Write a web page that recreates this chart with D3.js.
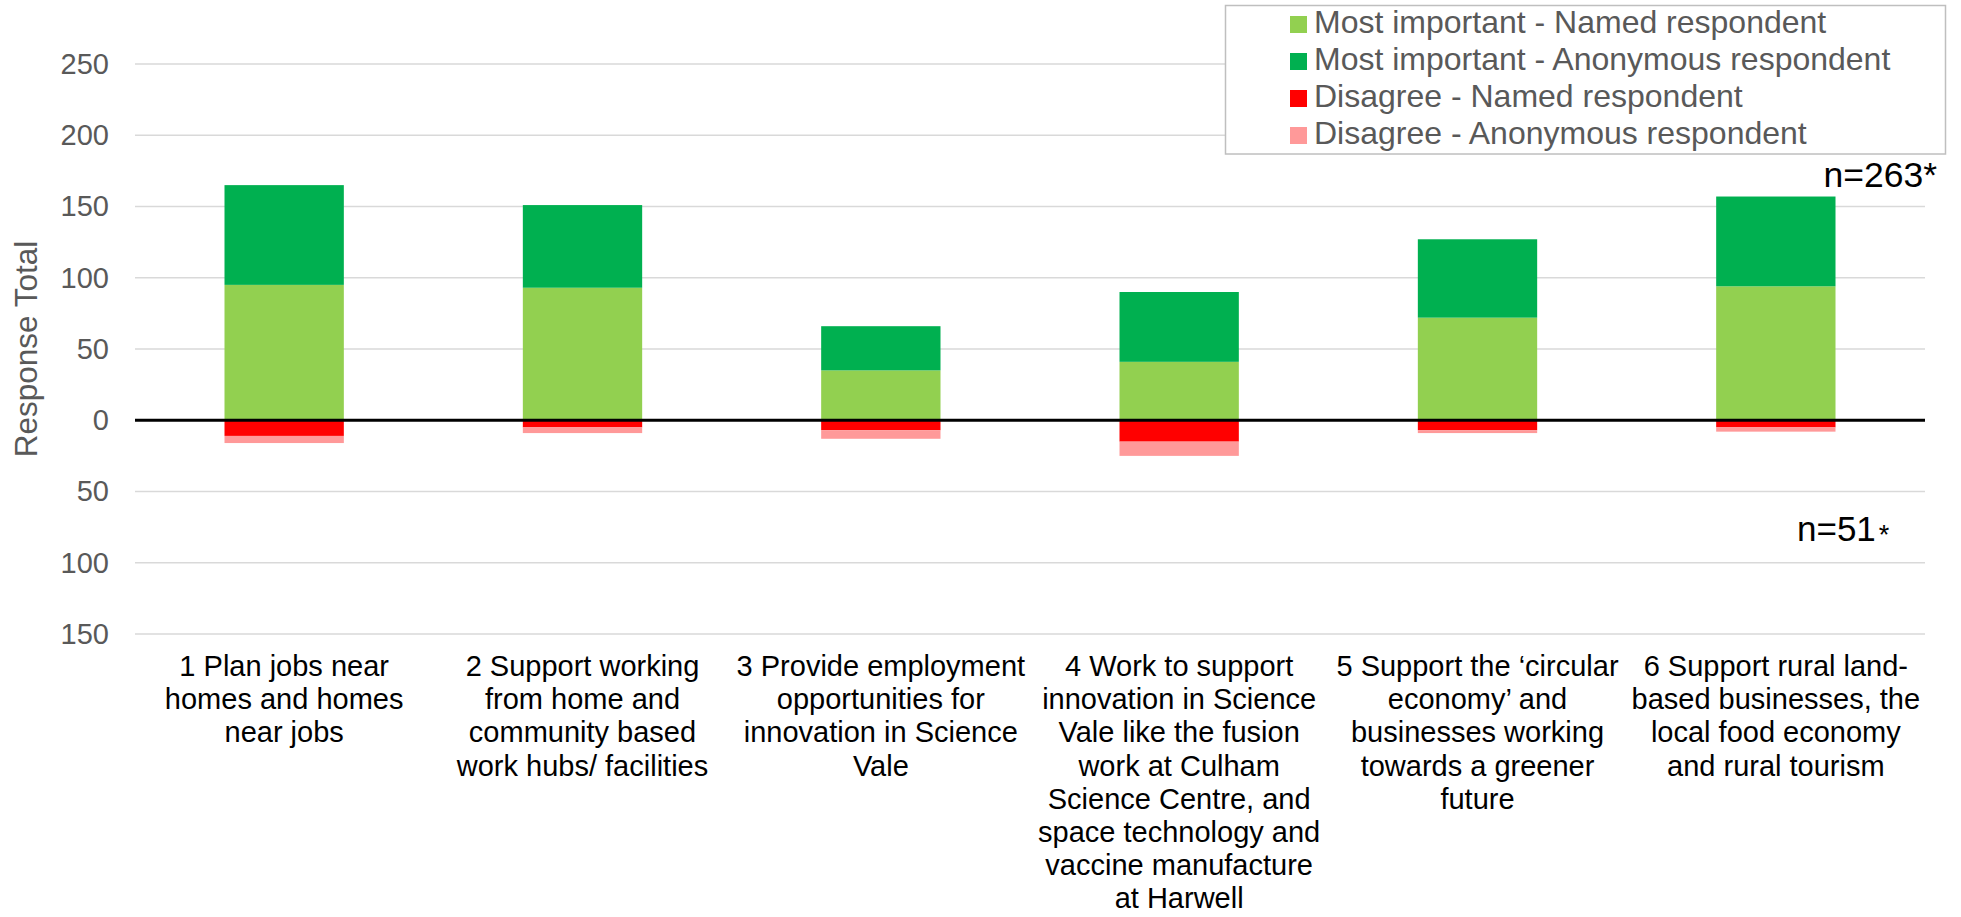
<!DOCTYPE html>
<html>
<head>
<meta charset="utf-8">
<script src="https://cdn.jsdelivr.net/npm/d3@7"></script>
<style>
  html, body { margin: 0; padding: 0; background: #ffffff; }
  svg { display: block; font-family: "Liberation Sans", Arial, sans-serif; }
</style>
</head>
<body>
<svg id="chart" width="1961" height="917"></svg>
<script>
// Category labels, one array of wrapped lines per option
const categories = [
  ["1 Plan jobs near", "homes and homes", "near jobs"],
  ["2 Support working", "from home and", "community based", "work hubs/ facilities"],
  ["3 Provide employment", "opportunities for", "innovation in Science", "Vale"],
  ["4 Work to support", "innovation in Science", "Vale like the fusion", "work at Culham",
   "Science Centre, and", "space technology and", "vaccine manufacture", "at Harwell"],
  ["5 Support the \u2018circular", "economy\u2019 and", "businesses working", "towards a greener", "future"],
  ["6 Support rural land-", "based businesses, the", "local food economy", "and rural tourism"]
];

// Response counts per option
const mostNamed      = [95, 93, 35, 41, 72, 94];
const mostAnonymous  = [70, 58, 31, 49, 55, 63];
const disagreeNamed  = [11, 5, 7, 15, 7, 5];
const disagreeAnon   = [5, 4, 6, 10, 2, 3];

const seriesNames = [
  "Most important - Named respondent",
  "Most important - Anonymous respondent",
  "Disagree - Named respondent",
  "Disagree - Anonymous respondent"
];
const seriesColors = ["#92D050", "#00B050", "#FF0000", "#FF9999"];

const yTicks = [-150, -100, -50, 0, 50, 100, 150, 200, 250];

const svg = d3.select("#chart");
const left = 135, right = 1925;

const x = d3.scaleBand()
  .domain(d3.range(categories.length))
  .range([left, right])
  .paddingInner(0.6)
  .paddingOuter(0.3);

const y = d3.scaleLinear().domain([-150, 250]).range([634, 64]);

// Horizontal gridlines
svg.append("g").selectAll("line")
  .data(yTicks.filter(d => d !== 0))
  .join("line")
  .attr("x1", left).attr("x2", right)
  .attr("y1", d => y(d)).attr("y2", d => y(d))
  .attr("stroke", "#D9D9D9").attr("stroke-width", 1.3);

// Stacked segments: positive stack upward, disagree stack downward from zero
const rows = categories.map((c, i) => {
  const segs = [];
  segs.push({ y0: 0, y1: mostNamed[i], s: 0 });
  segs.push({ y0: mostNamed[i], y1: mostNamed[i] + mostAnonymous[i], s: 1 });
  segs.push({ y0: 0, y1: -disagreeNamed[i], s: 2 });
  segs.push({ y0: -disagreeNamed[i], y1: -disagreeNamed[i] - disagreeAnon[i], s: 3 });
  return { i, segs };
});

svg.append("g").selectAll("g")
  .data(rows)
  .join("g")
  .selectAll("rect")
  .data(r => r.segs.map(s => Object.assign({ i: r.i }, s)))
  .join("rect")
  .attr("x", d => x(d.i))
  .attr("width", x.bandwidth())
  .attr("y", d => Math.min(y(d.y0), y(d.y1)))
  .attr("height", d => Math.abs(y(d.y0) - y(d.y1)))
  .attr("fill", d => seriesColors[d.s]);

// Zero baseline
svg.append("line")
  .attr("x1", left).attr("x2", right)
  .attr("y1", y(0)).attr("y2", y(0))
  .attr("stroke", "#000000").attr("stroke-width", 3);

// Y axis labels (absolute values both sides of zero)
const yAxis = d3.axisLeft(y)
  .tickValues(yTicks)
  .tickFormat(d => Math.abs(d))
  .tickSize(0)
  .tickPadding(0);
const ag = svg.append("g").attr("transform", "translate(109,0)").call(yAxis);
ag.select(".domain").remove();
ag.selectAll("text")
  .attr("fill", "#595959")
  .style("font-size", "29px")
  .style("font-family", "'Liberation Sans', Arial, sans-serif");

// Y axis title
svg.append("text")
  .attr("transform", "translate(37,349) rotate(-90)")
  .attr("text-anchor", "middle")
  .attr("fill", "#595959")
  .style("font-size", "31.5px")
  .text("Response Total");

// Category labels
const cat = svg.append("g").selectAll("text")
  .data(categories)
  .join("text")
  .attr("text-anchor", "middle")
  .attr("fill", "#000000")
  .style("font-size", "29px")
  .attr("x", (d, i) => x(i) + x.bandwidth() / 2)
  .attr("y", 676);
cat.selectAll("tspan")
  .data((d, i) => d.map(t => ({ t, i })))
  .join("tspan")
  .attr("x", d => x(d.i) + x.bandwidth() / 2)
  .attr("dy", (d, k) => k === 0 ? 0 : 33.2)
  .text(d => d.t);

// Legend
const lg = svg.append("g");
lg.append("rect")
  .attr("x", 1225.5).attr("y", 5.5)
  .attr("width", 720).attr("height", 148.5)
  .attr("fill", "#ffffff")
  .attr("stroke", "#BFBFBF").attr("stroke-width", 1.5);
const items = lg.selectAll("g.item")
  .data(seriesNames)
  .join("g")
  .attr("class", "item")
  .attr("transform", (d, i) => `translate(1290,${33 + i * 37})`);
items.append("rect")
  .attr("x", 0).attr("y", -17)
  .attr("width", 17).attr("height", 17)
  .attr("fill", (d, i) => seriesColors[i]);
items.append("text")
  .attr("x", 24).attr("y", 0)
  .attr("fill", "#595959")
  .style("font-size", "32px")
  .text(d => d);

// Sample size notes
svg.append("text")
  .attr("x", 1937).attr("y", 187)
  .attr("text-anchor", "end")
  .attr("fill", "#000000")
  .style("font-size", "35.5px")
  .text("n=263*");

const n51 = svg.append("text")
  .attr("x", 1797).attr("y", 541)
  .attr("fill", "#000000")
  .style("font-size", "35px");
n51.append("tspan").text("n=51");
n51.append("tspan").attr("dx", 3).attr("dy", 3).style("font-size", "27px").text("*");
</script>
</body>
</html>
